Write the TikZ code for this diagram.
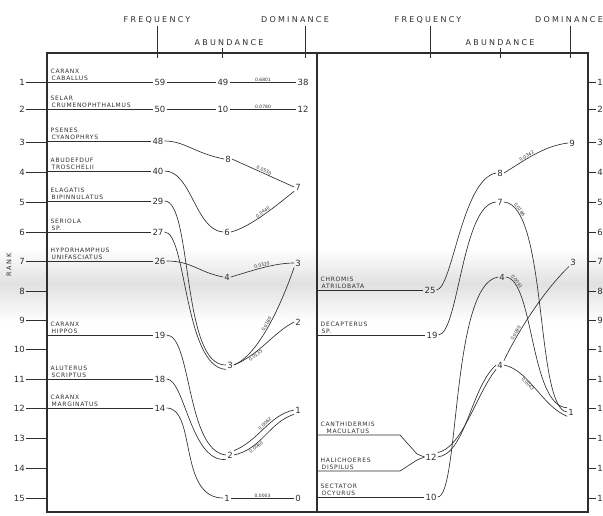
\documentclass[tikz,border=0pt]{standalone}
\usepackage{fontspec}
\newfontfamily\letfont[LetterSpace=28]{DejaVu Sans}
\newfontfamily\tinyfont[LetterSpace=12]{DejaVu Sans}
\newfontfamily\numfont{DejaVu Sans}
\usetikzlibrary{positioning,calc}
\definecolor{inkGray}{HTML}{2e2e2e}
\definecolor{paperGray}{HTML}{d4d4d4}

\begin{document}
\begin{tikzpicture}[
  x=1pt, y=-1pt,
  head/.style ={font=\letfont\fontsize{8}{8}\selectfont, text=inkGray, inner sep=0pt},
  frame/.style={draw=inkGray, line width=1.2pt},
  tick/.style ={draw=inkGray, line width=0.7pt},
  link/.style ={draw=inkGray, line width=0.65pt},
  val/.style  ={font=\numfont\fontsize{8.5}{8.5}\selectfont, text=inkGray, inner sep=1pt},
  rnk/.style  ={font=\numfont\fontsize{8.5}{8.5}\selectfont, text=inkGray, inner sep=1pt, anchor=east},
  rnkR/.style ={font=\numfont\fontsize{8.5}{8.5}\selectfont, text=inkGray, inner sep=1pt, anchor=west},
  spec/.style ={font=\tinyfont\fontsize{6}{6.5}\selectfont, text=inkGray, align=left, anchor=south west, inner sep=0.5pt},
  idx/.style  ={font=\numfont\fontsize{4.5}{4.5}\selectfont, text=inkGray, inner sep=0.6pt, sloped},
]
\useasboundingbox (0,0) rectangle (603,515);

% ==================== scan band ====================
\shade[top color=white, bottom color=paperGray!70] (0,248) rectangle (603,284);
\shade[top color=paperGray!70, bottom color=white] (0,284) rectangle (603,322);

% ==================== frame and header ====================
\coordinate (tl) at (47,53);  \coordinate (tr) at (588,53);
\coordinate (bl) at (47,512); \coordinate (br) at (588,512);
\coordinate (mt) at (317,53); \coordinate (mb) at (317,512);
\draw[frame] (bl) -- (tl) -- (tr) -- (br) -- cycle;
\draw[frame] (mt) -- (mb);

\node[head] (hFreqL) at (157,20) {FREQUENCY};
\node[head] (hAbunL) at (229,43) {ABUNDANCE};
\node[head] (hDomL)  at (295,20) {DOMINANCE};
\node[head] (hFreqR) at (428,20) {FREQUENCY};
\node[head] (hAbunR) at (500,43) {ABUNDANCE};
\node[head] (hDomR)  at (569,20) {DOMINANCE};
\draw[tick] (157,26) -- (157,58);
\draw[tick] (222,48) -- (222,58);
\draw[tick] (305,26) -- (305,58);
\draw[tick] (430,26) -- (430,58);
\draw[tick] (500,48) -- (500,58);
\draw[tick] (570,26) -- (570,58);

% rank axes
\node[head, rotate=90, font=\letfont\fontsize{6.5}{6.5}\selectfont] (rankLbl) at (9,265) {RANK};
\foreach \r/\y in {1/82,2/109,3/142,4/172,5/202,6/232,7/261,8/291,9/320,10/349,11/379,12/408,13/438,14/468,15/498}{
  \node[rnk] (rkL\r) at (26,\y) {\r};
  \draw[tick] (rkL\r.east) -- (47,\y);
  \draw[tick] (588,\y) -- (596,\y) node[rnkR] (rkR\r) {\r};
}

% ==================== LEFT panel ====================
% frequency column
\node[val] (fL1)  at (160,82)  {59};
\node[val] (fL2)  at (160,109) {50};
\node[val] (fL3)  at (158,141) {48};
\node[val] (fL4)  at (158,171) {40};
\node[val] (fL5)  at (158,201) {29};
\node[val] (fL6)  at (158,232) {27};
\node[val] (fL7)  at (160,261) {26};
\node[val] (fL9)  at (160,335) {19};
\node[val] (fL11) at (160,379) {18};
\node[val] (fL12) at (160,408) {14};

% species
\node[spec] (sL1)  at (50,81)  {CARANX\\\,CABALLUS};
\node[spec] (sL2)  at (50,108) {SELAR\\\,CRUMENOPHTHALMUS};
\node[spec] (sL3)  at (50,140) {PSENES\\\,CYANOPHRYS};
\node[spec] (sL4)  at (50,170) {ABUDEFDUF\\\,TROSCHELII};
\node[spec] (sL5)  at (50,200) {ELAGATIS\\\,BIPINNULATUS};
\node[spec] (sL6)  at (50,231) {SERIOLA\\\,SP.};
\node[spec] (sL7)  at (50,260) {HYPORHAMPHUS\\\,UNIFASCIATUS};
\node[spec] (sL9)  at (50,334) {CARANX\\\,HIPPOS};
\node[spec] (sL11) at (50,378) {ALUTERUS\\\,SCRIPTUS};
\node[spec] (sL12) at (50,407) {CARANX\\\,MARGINATUS};
\foreach \n in {1,2,3,4,5,6,7,9,11,12}
  \draw[link] (tl |- fL\n) -- (fL\n);

% abundance column
\node[val] (aL49) at (223,82)  {49};
\node[val] (aL10) at (223,109) {10};
\node[val] (aL8)  at (228,159) {8};
\node[val] (aL6)  at (227,232) {6};
\node[val] (aL4)  at (227,277) {4};
\node[val] (aL3)  at (230,365) {3};
\node[val] (aL2)  at (230,455) {2};
\node[val] (aL1)  at (227,498) {1};

% dominance column
\node[val] (dL38) at (303,82)  {38};
\node[val] (dL12) at (303,109) {12};
\node[val] (dL7)  at (298,187) {7};
\node[val] (dL3)  at (298,263) {3};
\node[val] (dL2)  at (298,322) {2};
\node[val] (dL1)  at (298,410) {1};
\node[val] (dL0)  at (298,498) {0};

% links
\draw[link] (fL1) -- (aL49) -- node[idx, above]{0.6801} (dL38);
\draw[link] (fL2) -- (aL10) -- node[idx, above]{0.0780} (dL12);
\draw[link] (fL3.east) .. controls +(20,0) and +(-30,-6) .. (aL8.west);
\draw[link] (aL8.east) -- node[idx, above]{0.0530} (dL7.west);
\draw[link] (fL4.east) .. controls +(27,0) and +(-28,-2) .. (aL6.west);
\draw[link] (aL6.east) .. controls +(20,-5) and +(-15,12) .. node[idx, above]{0.0440} (dL7.south west);
\draw[link] (fL5.east) .. controls +(28,0) and +(-45,2) .. (aL3.west);
\draw[link] (fL6.east) .. controls +(22,0) and +(-42,-2) .. (aL3.south west);
\draw[link] (fL7.east) .. controls +(25,0) and +(-25,-5) .. (aL4.west);
\draw[link] (aL4.east) .. controls +(20,-6) and +(-20,0) .. node[idx, above]{0.0320} (dL3.west);
\draw[link] (aL3.east) .. controls +(25,-10) and +(-12,35) .. node[idx, above, pos=0.5]{0.0180} (dL3.south west);
\draw[link] (aL3.east) .. controls +(25,-10) and +(-20,10) .. node[idx, below, pos=0.3]{0.0135} (dL2.west);
\draw[link] (fL9.east) .. controls +(25,0) and +(-40,-4) .. (aL2.west);
\draw[link] (fL11.east) .. controls +(18,0) and +(-35,4) .. (aL2.south west);
\draw[link] (fL12.east) .. controls +(30,0) and +(-45,0) .. (aL1.west);
\draw[link] (aL2.north east) .. controls +(25,-10) and +(-25,5) .. node[idx, above, pos=0.55]{0.0062} (dL1.west);
\draw[link] (aL2.east) .. controls +(28,-6) and +(-25,8) .. node[idx, below, pos=0.3]{0.0060} (dL1.south west);
\draw[link] (aL1) -- node[idx, above]{0.0003} (dL0);

% ==================== RIGHT panel ====================
% frequency column
\node[val] (rF25) at (430,290) {25};
\node[val] (rF19) at (432,335) {19};
\node[val] (rF12) at (431,457) {12};
\node[val] (rF10) at (431,497) {10};

% species
\node[spec] (sR1) at (320,289) {CHROMIS\\\,ATRILOBATA};
\node[spec] (sR2) at (320,334) {DECAPTERUS\\\,SP.};
\node[spec] (sR3) at (320,434) {CANTHIDERMIS\\\quad MACULATUS};
\node[spec] (sR4) at (320,470) {HALICHOERES\\\,DISPILUS};
\node[spec] (sR5) at (320,496) {SECTATOR\\\,OCYURUS};
\draw[link] (mt |- rF25) -- (rF25);
\draw[link] (mt |- rF19) -- (rF19);
\draw[link] (mt |- rF10) -- (rF10);
\coordinate (cK1) at (400,435); \coordinate (cK2) at (417,454);
\coordinate (cH1) at (400,471); \coordinate (cH2) at (417,460);
\draw[link] (mt |- cK1) -- (cK1) -- (cK2) -- (rF12.west);
\draw[link] (mt |- cH1) -- (cH1) -- (cH2) -- (rF12.west);

% abundance column
\node[val] (rA8) at (500,173) {8};
\node[val] (rA7) at (500,202) {7};
\node[val] (rA4) at (502,277) {4};
\node[val] (rA4b) at (500,365) {4};

% dominance column
\node[val] (rD9) at (572,143) {9};
\node[val] (rD3) at (573,262) {3};
\node[val] (rD1) at (571,412) {1};

% links
\draw[link] (rF25.east) .. controls +(16,-2) and +(-34,6) .. (rA8.west);
\draw[link] (rA8.east) .. controls +(20,-12) and +(-25,3) .. node[idx, above, pos=0.4]{0.0342} (rD9.west);
\draw[link] (rF19.east) .. controls +(20,-2) and +(-34,2) .. (rA7.west);
\draw[link] (rA7.east) .. controls +(44,3) and +(-32,-3) .. node[idx, above, pos=0.12]{0.0186} (rD1.west);
\draw[link] (rF10.east) .. controls +(22,0) and +(-47,7) .. (rA4.west);
\draw[link] (rA4.east) .. controls +(28,3) and +(-37,-1) .. node[idx, above, pos=0.12]{0.0091} (rD1.north west);
\draw[link] (rF12.north east) .. controls +(25,-5) and +(-20,25) .. (rA4b.south west);
\draw[link] (rF12.east) .. controls +(28,-3) and +(-25,22) .. (rA4b.west);
\draw[link] (rA4b.north east) .. controls +(12,-25) and +(-28,27) .. node[idx, above, pos=0.3]{0.0090} (rD3.south west);
\draw[link] (rA4b.east) .. controls +(25,5) and +(-25,-10) .. node[idx, below, pos=0.4]{0.0043} (rD1.south west);

\end{tikzpicture}
\end{document}
